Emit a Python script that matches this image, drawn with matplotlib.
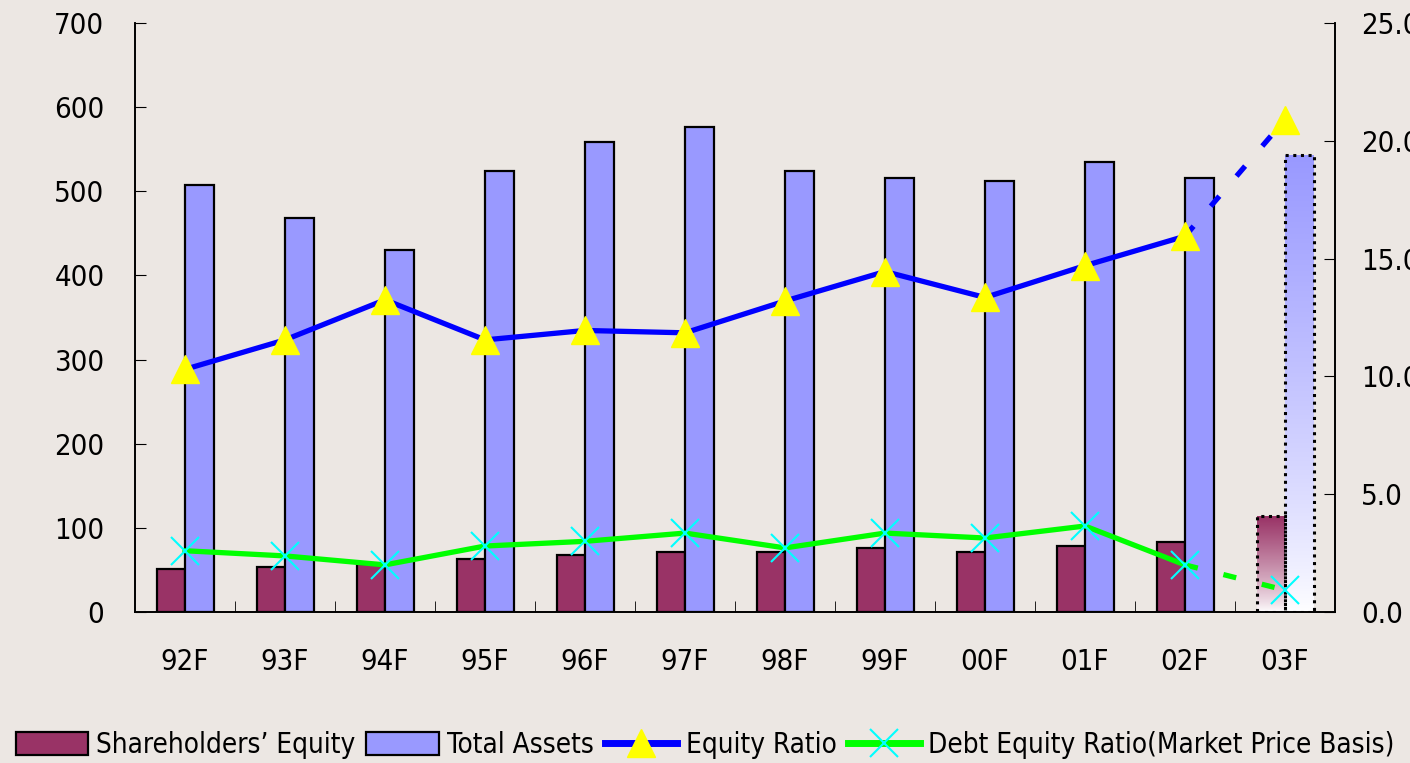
import numpy as np
import matplotlib
matplotlib.use("Agg")
import matplotlib.pyplot as plt
from matplotlib.patches import Patch
from matplotlib.lines import Line2D
from matplotlib.colors import LinearSegmentedColormap

years = ["92F", "93F", "94F", "95F", "96F", "97F", "98F", "99F", "00F", "01F", "02F", "03F"]
equity = [51, 54, 57, 63, 68, 71, 71, 76, 71, 78, 83, 114]
assets = [507, 468, 430, 524, 558, 576, 524, 516, 512, 535, 516, 543]
equityRatio = [10.3, 11.55, 13.25, 11.55, 11.95, 11.85, 13.2, 14.45, 13.35, 14.7, 15.95, 20.9]
debtEquity = [2.6, 2.38, 2.0, 2.8, 3.0, 3.35, 2.72, 3.35, 3.14, 3.65, 2.0, 0.93]

bg = "#ECE7E3"
eqColor = "#993366"
asColor = "#9999FF"

plt.rcParams['font.family'] = ['DejaVu Sans']
plt.rcParams['font.stretch'] = 'condensed'

fig = plt.figure(figsize=(14.1, 7.63), dpi=100, facecolor=bg)
ax = fig.add_axes([135 / 1410, 1 - 612 / 763, 1200 / 1410, 589 / 763])
ax.set_facecolor(bg)
ax2 = ax.twinx()

x = np.arange(len(years))
w = 0.285
n = len(years) - 1  # last year is a forecast

eqBars = ax.bar(x[:n] - w / 2, equity[:n], w, color=eqColor, edgecolor="black", linewidth=1.6, zorder=2)
asBars = ax.bar(x[:n] + w / 2, assets[:n], w, color=asColor, edgecolor="black", linewidth=1.6, zorder=2)

# forecast bars: gradient fill with dotted outline
fcEq = ax.bar(x[n] - w / 2, equity[n], w, facecolor="none", edgecolor="black", linewidth=2.2,
              linestyle=(0, (1, 1.5)), zorder=3)
fcAs = ax.bar(x[n] + w / 2, assets[n], w, facecolor="none", edgecolor="black", linewidth=2.2,
              linestyle=(0, (1, 1.5)), zorder=3)
grad = np.linspace(0, 1, 256).reshape(-1, 1) ** 0.8
for bars, col in [(fcEq, eqColor), (fcAs, asColor)]:
    p = bars[0]
    cmap = LinearSegmentedColormap.from_list("g", ["white", col])
    ax.imshow(grad, cmap=cmap, origin="lower", aspect="auto", zorder=2,
              extent=[p.get_x(), p.get_x() + p.get_width(), 0, p.get_height()])

ax.set_xlim(-0.5, len(years) - 0.5)
ax.set_ylim(0, 700)
ax2.set_ylim(0, 25)

# lines
dash = (0, (2.5, 5))
ax2.plot(x[:n], equityRatio[:n], color="#0000FF", lw=3.8, zorder=4)
ax2.plot(x[n - 1:], equityRatio[n - 1:], color="#0000FF", lw=3.8, linestyle=dash, zorder=4)
ax2.plot(x, equityRatio, linestyle="none", marker="^", ms=20, color="#FFFF00", zorder=5)
ax2.plot(x[:n], debtEquity[:n], color="#00FF00", lw=3.8, zorder=4)
ax2.plot(x[n - 1:], debtEquity[n - 1:], color="#00FF00", lw=3.8, linestyle=dash, zorder=4)
ax2.plot(x, debtEquity, linestyle="none", marker="x", ms=20, mew=1.5, color="#00FFFF", zorder=5)

# axes styling
for a in (ax, ax2):
    a.spines["top"].set_visible(False)
    for s in ("left", "right", "bottom"):
        a.spines[s].set_linewidth(1.2)
ax.set_yticks(range(0, 701, 100))
ax2.set_yticks(range(0, 26, 5))
ax2.set_yticklabels([f"{v:.1f}" for v in range(0, 26, 5)])
ax.tick_params(axis="y", direction="in", length=8, pad=22, labelsize=21)
ax2.tick_params(axis="y", direction="in", length=8, pad=19, labelsize=21)
ax.set_xticks(x)
ax.set_xticklabels(years)
ax.tick_params(axis="x", length=0, pad=26, labelsize=21)
ax.set_xticks(np.arange(0.5, len(years) - 1, 1), minor=True)
ax.tick_params(axis="x", which="minor", direction="in", length=8)

handles = [
    Patch(facecolor=eqColor, edgecolor="black", linewidth=1.6),
    Patch(facecolor=asColor, edgecolor="black", linewidth=1.6),
    Line2D([], [], color="#0000FF", lw=5, marker="^", ms=20, mfc="#FFFF00", mec="#FFFF00"),
    Line2D([], [], color="#00FF00", lw=5, marker="x", ms=20, mew=1.5, mec="#00FFFF"),
]
labels = ["Shareholders’ Equity", "Total Assets", "Equity Ratio", "Debt Equity Ratio(Market Price Basis)"]
fig.legend(handles, labels, loc="lower center", bbox_to_anchor=(0.5, -0.028), ncol=4, frameon=False,
           fontsize=20, handlelength=2.6, handleheight=0.9, handletextpad=0.3, columnspacing=0.4)

fig.savefig("out.png", dpi=100, facecolor=bg)
